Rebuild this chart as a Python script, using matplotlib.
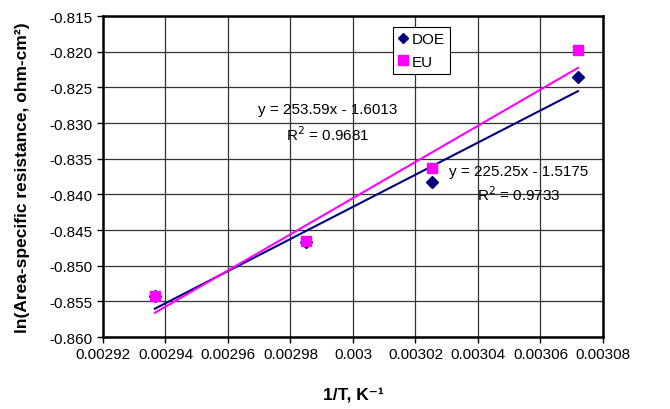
"""ln(ASR) vs 1/T, DOE and EU data with linear trendlines."""

import matplotlib
matplotlib.use("Agg")
import matplotlib.pyplot as plt
import numpy as np
from matplotlib.ticker import FuncFormatter, MultipleLocator

plt.rcParams["font.family"] = ["Liberation Sans", "DejaVu Sans"]

# 1/T values (K^-1) for the four measurements
inv_t = [0.0029366, 0.0029850, 0.0030254, 0.0030720]

doe_ln_asr = [-0.8543, -0.8467, -0.8382, -0.8236]
eu_ln_asr = [-0.8542, -0.8465, -0.8363, -0.8198]

# trendline coefficients as printed on the chart
doe_slope, doe_icpt, doe_r2 = 225.25, -1.5175, 0.9733
eu_slope, eu_icpt, eu_r2 = 253.59, -1.6013, 0.9681

navy = "#000080"
magenta = "#FF00FF"

fig = plt.figure(figsize=(6.7, 4.1), dpi=100)
ax = fig.add_axes([0.1537, 0.1756, 0.7463, 0.7829])

# trendlines over the data span
x_fit = np.array([min(inv_t), max(inv_t)])
ax.plot(x_fit, doe_slope * x_fit + doe_icpt, color=navy, lw=1.5, zorder=3)
ax.plot(x_fit, eu_slope * x_fit + eu_icpt, color=magenta, lw=1.5, zorder=3)

ax.plot(inv_t, doe_ln_asr, ls="none", marker="D", ms=5.8, color=navy,
        label="DOE", zorder=4)
ax.plot(inv_t, eu_ln_asr, ls="none", marker="s", ms=7.7, color=magenta,
        label="EU", zorder=5)

ax.set_xlim(0.00292, 0.00308)
ax.set_ylim(-0.860, -0.815)
ax.xaxis.set_major_locator(MultipleLocator(0.00002))
ax.yaxis.set_major_locator(MultipleLocator(0.005))
ax.xaxis.set_major_formatter(FuncFormatter(lambda v, p: f"{round(v, 6):g}"))
ax.yaxis.set_major_formatter(FuncFormatter(lambda v, p: f"{v:.3f}"))
ax.tick_params(direction="out", length=4, width=1, labelsize=11, colors="black")

ax.grid(True, color="#333333", lw=0.9)
ax.set_axisbelow(True)
for s in ax.spines.values():
    s.set_linewidth(1.8)
    s.set_color("black")

ax.set_xlabel("1/T, K\u207b\u00b9", fontsize=12.5, fontweight="bold", labelpad=18)
ax.set_ylabel("ln(Area-specific resistance, ohm-cm\u00b2)", fontsize=12.5,
              fontweight="bold", labelpad=14)

ax.text(0.002992, -0.82804, f"y = {eu_slope}x - {abs(eu_icpt)}", ha="center",
        va="center", fontsize=11)
ax.text(0.002992, -0.83154, f"R$^2$ = {eu_r2}", ha="center", va="center", fontsize=11)
ax.text(0.0030531, -0.83673, f"y = {doe_slope}x - {abs(doe_icpt)}", ha="center",
        va="center", fontsize=11)
ax.text(0.0030531, -0.83995, f"R$^2$ = {doe_r2}", ha="center", va="center", fontsize=11)

leg = ax.legend(loc="upper left", bbox_to_anchor=(0.58, 0.966), fontsize=11,
                frameon=True, fancybox=False, edgecolor="black", framealpha=1,
                handlelength=0.6, handletextpad=0.3, borderpad=0.35,
                labelspacing=0.55, borderaxespad=0, markerscale=0.85)
leg.get_frame().set_linewidth(0.8)

fig.savefig("out.png", dpi=100)
